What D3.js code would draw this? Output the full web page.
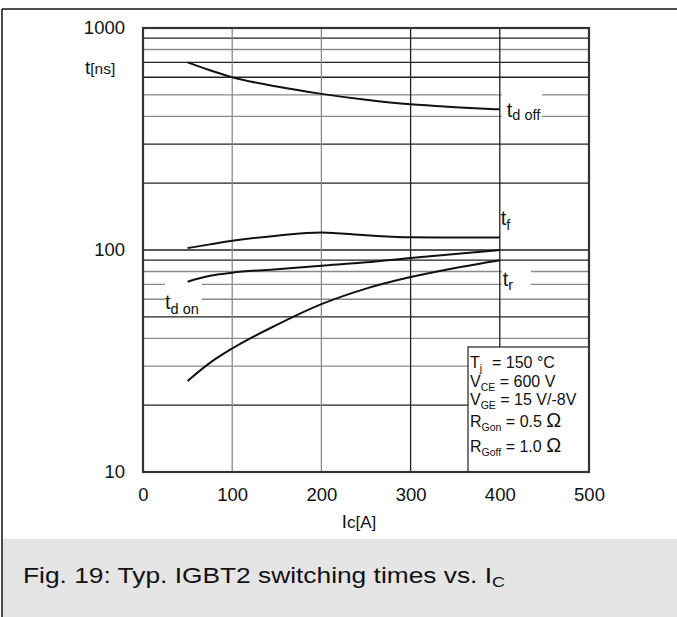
<!DOCTYPE html>
<html>
<head>
<meta charset="utf-8">
<script src="https://cdn.jsdelivr.net/npm/d3@7"></script>
<style>
  html, body { margin: 0; padding: 0; background: #fff; }
  svg { display: block; font-family: "Liberation Sans", Arial, Helvetica, sans-serif; }
</style>
</head>
<body>
<svg id="chart" width="677" height="617"></svg>
<script>
// ---- data ----
const currents = [50, 75, 100, 150, 200, 250, 300, 350, 400];      // Ic [A]
const tdOff    = [700, 645, 600, 545, 505, 475, 453, 440, 430];     // ns
const tF       = [102, 106, 110, 116, 120, 116.5, 114, 113.8, 113.8];
const tdOn     = [72, 76.5, 79, 82, 85, 88, 92, 96, 100];
const tR       = [25.7, 31, 36, 46, 57, 67, 75.5, 83, 90];
const xTicks   = [0, 100, 200, 300, 400, 500];
const yTicks   = [10, 100, 1000];
const yGrid    = [20, 30, 40, 50, 60, 70, 80, 90, 100, 200, 300, 400, 500, 600, 700, 800, 900];
const xGrid    = [100, 200, 300, 400];
const conditions = [
  ["T", "j", "= 150 °C"],
  ["V", "CE", " = 600 V"],
  ["V", "GE", " = 15 V/-8V"],
  ["R", "Gon", " = 0.5 ", "Ω"],
  ["R", "Goff", " = 1.0 ", "Ω"]
];

// ---- style config ----
const lightY = new Set([30, 40, 60, 70, 80, 400, 500, 800]);
const lightX = new Set([100, 200]);
const DARK = "#222", LIGHT = "#8a8a8a";

const svg = d3.select("#chart");
const x = d3.scaleLinear().domain([0, 500]).range([143, 589]);
const y = d3.scaleLog().domain([10, 1000]).range([472, 28]);

// outer frame
svg.append("rect").attr("x", 3).attr("y", 539).attr("width", 674).attr("height", 78).attr("fill", "#e5e5e5");
svg.append("line").attr("x1", 2).attr("x2", 2).attr("y1", 9).attr("y2", 617).attr("stroke", "#111").attr("stroke-width", 1.5);
svg.append("line").attr("x1", 2).attr("x2", 677).attr("y1", 9).attr("y2", 9).attr("stroke", "#111").attr("stroke-width", 1.5);

// grid
const g = svg.append("g");
g.selectAll("line.hy").data(yGrid).join("line")
  .attr("x1", x(0)).attr("x2", x(500))
  .attr("y1", d => y(d)).attr("y2", d => y(d))
  .attr("stroke", d => lightY.has(d) ? LIGHT : DARK)
  .attr("stroke-width", 1.3);
g.selectAll("line.vx").data(xGrid).join("line")
  .attr("x1", d => x(d)).attr("x2", d => x(d))
  .attr("y1", y(1000)).attr("y2", y(10))
  .attr("stroke", d => lightX.has(d) ? LIGHT : DARK)
  .attr("stroke-width", 1.3);

// label backgrounds (break grid lines)
const bg = [
  [x(400) + 2, y(520), 40, y(380) - y(520)],
  [x(400) + 2, y(82), 29, y(66) - y(82)],
  [165, y(72.5), 37, y(57) - y(72.5)]
];
svg.selectAll("rect.bg").data(bg).join("rect")
  .attr("x", d => d[0]).attr("y", d => d[1]).attr("width", d => d[2]).attr("height", d => d[3])
  .attr("fill", "#fff");

// legend box
svg.append("rect").attr("x", 468).attr("y", 347).attr("width", x(500) - 468).attr("height", y(10) - 347)
  .attr("fill", "#fff").attr("stroke", "#222").attr("stroke-width", 1.2);

// plot frame
svg.append("rect").attr("x", x(0)).attr("y", y(1000)).attr("width", x(500) - x(0)).attr("height", y(10) - y(1000))
  .attr("fill", "none").attr("stroke", "#333").attr("stroke-width", 2.2);

// curves
const line = d3.line().x((d, i) => x(currents[i])).y(d => y(d)).curve(d3.curveMonotoneX);
[tdOff, tF, tdOn, tR].forEach(s => {
  svg.append("path").attr("d", line(s)).attr("fill", "none").attr("stroke", "#111").attr("stroke-width", 2);
});

// axes
const yAxis = d3.axisLeft(y).tickValues(yTicks).tickFormat(d3.format("d")).tickSize(0).tickPadding(18);
const ya = svg.append("g").attr("transform", `translate(${x(0)},0)`).call(yAxis);
const xAxis = d3.axisBottom(x).tickValues(xTicks).tickFormat(d3.format("d")).tickSize(0).tickPadding(16);
const xa = svg.append("g").attr("transform", `translate(0,${y(10)})`).call(xAxis);
[ya, xa].forEach(a => {
  a.select(".domain").remove();
  a.selectAll("text").attr("font-size", 18.5).attr("fill", "#111").attr("font-family", "Liberation Sans, Arial, sans-serif");
});

// axis titles
const yt = svg.append("text").attr("x", 85).attr("y", 74).attr("fill", "#111");
yt.append("tspan").attr("font-size", 19).text("t");
yt.append("tspan").attr("font-size", 15.5).text("[ns]");
const xt = svg.append("text").attr("x", 359).attr("y", 528).attr("text-anchor", "middle").attr("fill", "#111");
xt.append("tspan").attr("font-size", 18.5).text("I");
xt.append("tspan").attr("font-size", 17).text("c[A]");

// curve labels
function tlabel(px, py, sub, dy) {
  const t = svg.append("text").attr("x", px).attr("y", py).attr("fill", "#111");
  t.append("tspan").attr("font-size", 20).text("t");
  t.append("tspan").attr("font-size", 14.5).attr("dy", dy).text(sub);
}
tlabel(x(400) + 7, 116.5, "d off", 3);
tlabel(x(400) + 1, 225, "f", 5);
tlabel(x(400) + 3, 286, "r", 4);
tlabel(165, 309, "d on", 5);

// conditions
conditions.forEach((c, i) => {
  const ys = [368, 387, 405, 427, 452];
  const t = svg.append("text").attr("x", 470).attr("y", ys[i]).attr("fill", "#111").attr("font-size", 16);
  t.append("tspan").text(c[0]);
  t.append("tspan").attr("font-size", 10.5).attr("dy", 4).text(c[1]);
  const eq = t.append("tspan").attr("dy", -4).text(c[2]);
  if (i === 0) eq.attr("x", 492);
  if (c[3]) t.append("tspan").attr("font-size", 20).text(c[3]);
});

// caption
const cap = svg.append("text").attr("x", 23).attr("y", 583).attr("fill", "#111").attr("font-size", 22)
  .attr("textLength", 482).attr("lengthAdjust", "spacingAndGlyphs");
cap.append("tspan").text("Fig. 19: Typ. IGBT2 switching times vs. I");
cap.append("tspan").attr("font-size", 15).attr("dy", 4).text("C");
</script>
</body>
</html>
